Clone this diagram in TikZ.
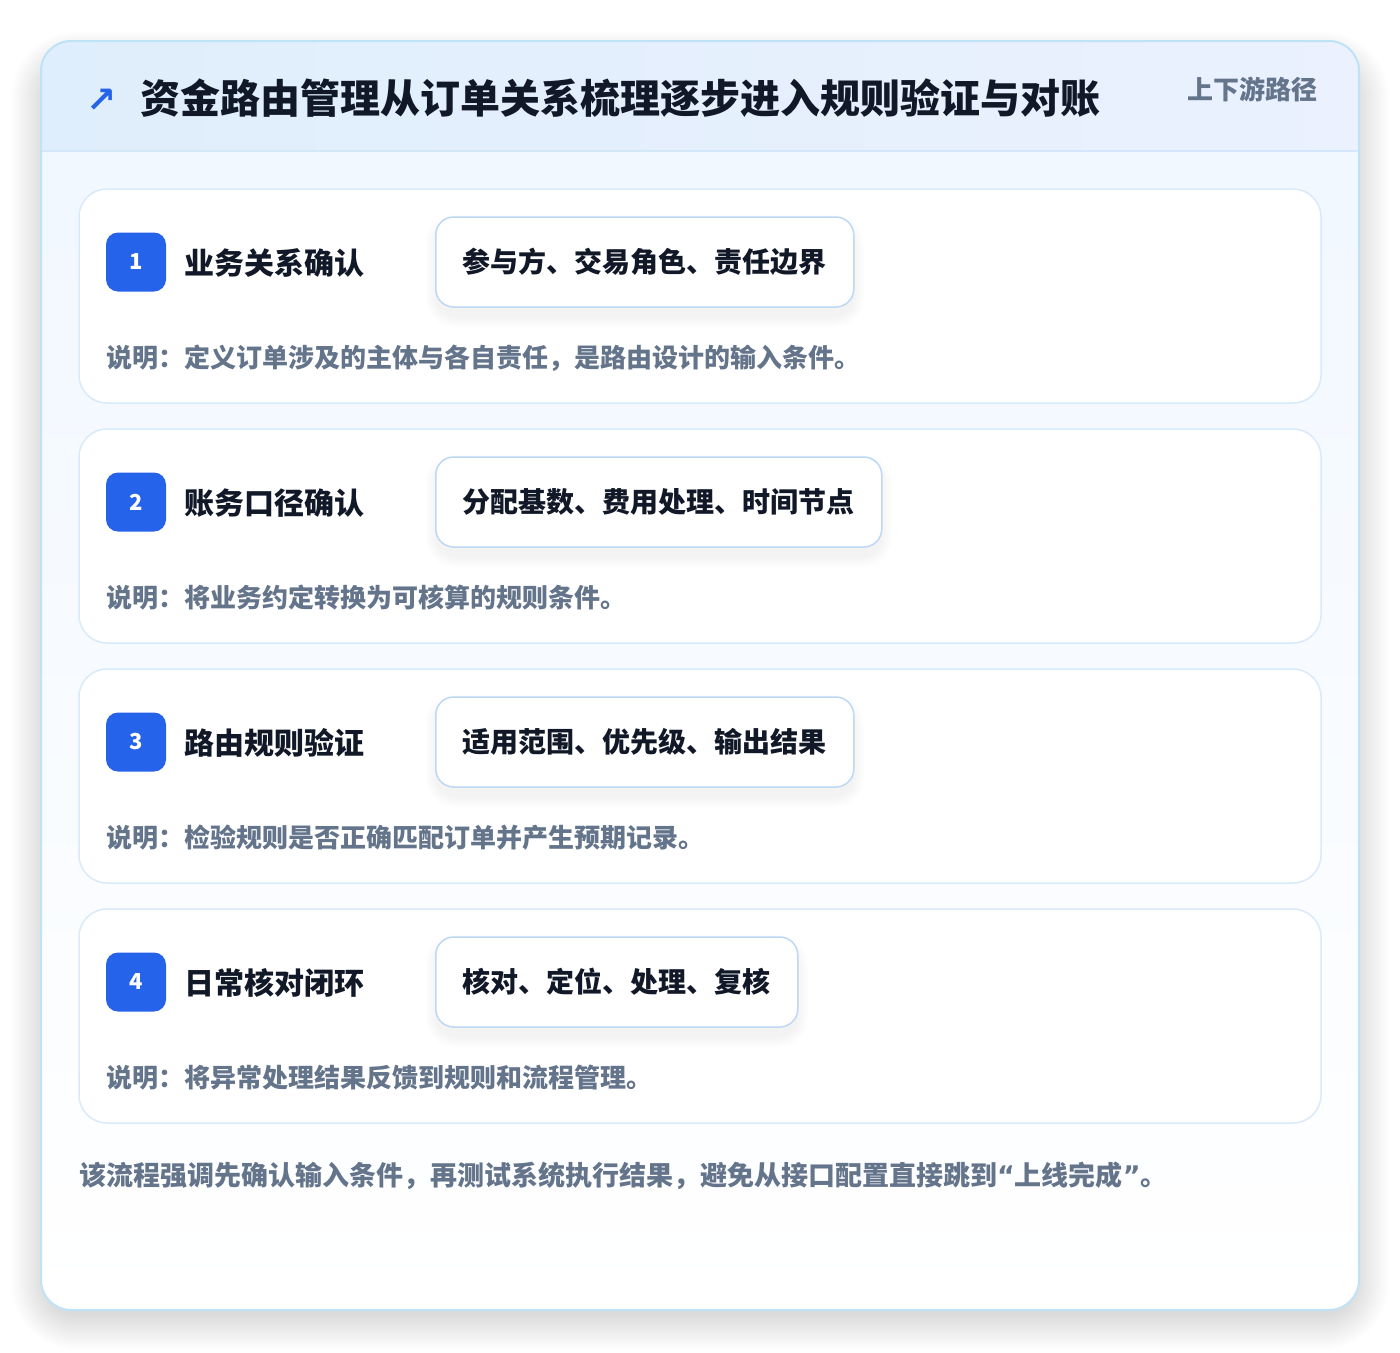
\documentclass[tikz,border=0pt]{standalone}
\usepackage{fontspec}
\setmainfont{Noto Sans CJK SC}
\newfontfamily\symfont{DejaVu Sans}
\definecolor{outerborder}{HTML}{BEE3F6}
\definecolor{hdrleft}{HTML}{DFEEFC}
\definecolor{hdrright}{HTML}{EBF1FE}
\definecolor{hdrline}{HTML}{D5E7FA}
\definecolor{bodytop}{HTML}{F0F7FF}
\definecolor{cardborder}{HTML}{D8EAFB}
\definecolor{tagborder}{HTML}{BED7F4}
\definecolor{badgeblue}{HTML}{2563EB}
\definecolor{darktext}{HTML}{111827}
\definecolor{graytext}{HTML}{64748B}
\pgfdeclarelayer{back}
\pgfdeclarelayer{mid}
\pgfsetlayers{back,mid,main}
\tikzset{
  card/.style={draw=cardborder, line width=1.5pt, fill=white, rounded corners=28pt,
    minimum width=1242pt, minimum height=214pt, inner sep=0pt},
  badge/.style={fill=badgeblue, rounded corners=12pt, minimum width=60pt, minimum height=59pt,
    inner sep=0pt, text=white, font=\fontsize{22}{26}\selectfont\bfseries},
  headtext/.style={inner sep=0pt, text=darktext, font=\fontsize{30}{36}\selectfont\bfseries},
  tagbox/.style={draw=tagborder, line width=1.5pt, fill=white, rounded corners=18pt,
    minimum height=90pt, inner xsep=27pt, inner ysep=0pt, text=darktext,
    text height=22.4pt, text depth=1.4pt,
    font=\fontsize{28}{34}\selectfont\bfseries},
  desctext/.style={inner sep=0pt, text=graytext, font=\fontsize{26}{32}\selectfont\bfseries},
  softshadow/.style={fill=black, opacity=#1},
}
\newcommand{\myopenq}{{\symfont\bfseries “}}
\newcommand{\mycloseq}{{\symfont\bfseries ”}}
\begin{document}
\begin{tikzpicture}[x=1pt,y=-1pt]
\useasboundingbox (0,0) rectangle (1400,1352);
\begin{pgfonlayer}{back}
\fill[white] (0,0) rectangle (1400,1352);
% outer soft shadow
\foreach \k in {1,...,36}{
  \fill[softshadow=0.0032, rounded corners=30+\k] (41-\k+6,41-\k+26) rectangle (1359+\k-6,1310+\k+4);
}
\path[top color=bodytop, bottom color=white, rounded corners=30pt] (41,41) rectangle (1359,1310);
\begin{scope}
  \clip[rounded corners=30pt] (41,41) rectangle (1359,1310);
  \path[left color=hdrleft, right color=hdrright] (41,41) rectangle (1359,151);
\end{scope}
\draw[hdrline, line width=1.5pt] (41,151) -- (1359,151);
\draw[outerborder, line width=2pt, rounded corners=30pt] (41,41) rectangle (1359,1310);
\end{pgfonlayer}
% header
\node[anchor=base, inner sep=0pt, text=badgeblue, font=\symfont\bfseries\fontsize{36}{40}\selectfont] (arrow) at (102,112) {↗};
\node[anchor=base west, inner sep=0pt, text=darktext, font=\fontsize{40}{48}\selectfont\bfseries] (title) at (140,113)
  {资金路由管理从订单关系梳理逐步进入规则验证与对账};
\node[anchor=base east, inner sep=0pt, text=graytext, font=\fontsize{26}{32}\selectfont\bfseries] (scope) at (1318,99)
  {上下游路径};
% cards
\foreach \i/\head/\tag/\desc in {
  1/业务关系确认/参与方、交易角色、责任边界/说明：定义订单涉及的主体与各自责任，是路由设计的输入条件。,
  2/账务口径确认/分配基数、费用处理、时间节点/说明：将业务约定转换为可核算的规则条件。,
  3/路由规则验证/适用范围、优先级、输出结果/说明：检验规则是否正确匹配订单并产生预期记录。,
  4/日常核对闭环/核对、定位、处理、复核/说明：将异常处理结果反馈到规则和流程管理。}{
  \pgfmathsetmacro\yt{189+240*(\i-1)}
  \begin{pgfonlayer}{back}
    \node[card] (card\i) at (700,\yt+107) {};
  \end{pgfonlayer}
  \node[badge] (badge\i) at (136,\yt+73) {\i};
  \node[headtext, anchor=base west] (head\i) at (184,\yt+85) {\head};
  \node[tagbox, anchor=west] (tag\i) at (435,\yt+73) {\tag};
  \begin{pgfonlayer}{mid}
    \foreach \k in {1,...,12}{
      \fill[softshadow=0.0035, rounded corners=18+\k] ([shift={(-\k+2,-\k+10)}]tag\i.north west) rectangle ([shift={(\k-2,\k+8)}]tag\i.south east);
    }
  \end{pgfonlayer}
  \node[desctext, anchor=base west] (desc\i) at (106,\yt+178) {\desc};
}
% footer
\node[anchor=base west, inner sep=0pt, text=graytext, font=\fontsize{27}{32}\selectfont\bfseries] (footer) at (79,1185)
  {该流程强调先确认输入条件，再测试系统执行结果，避免从接口配置直接跳到\myopenq 上线完成\mycloseq 。};
\end{tikzpicture}
\end{document}
